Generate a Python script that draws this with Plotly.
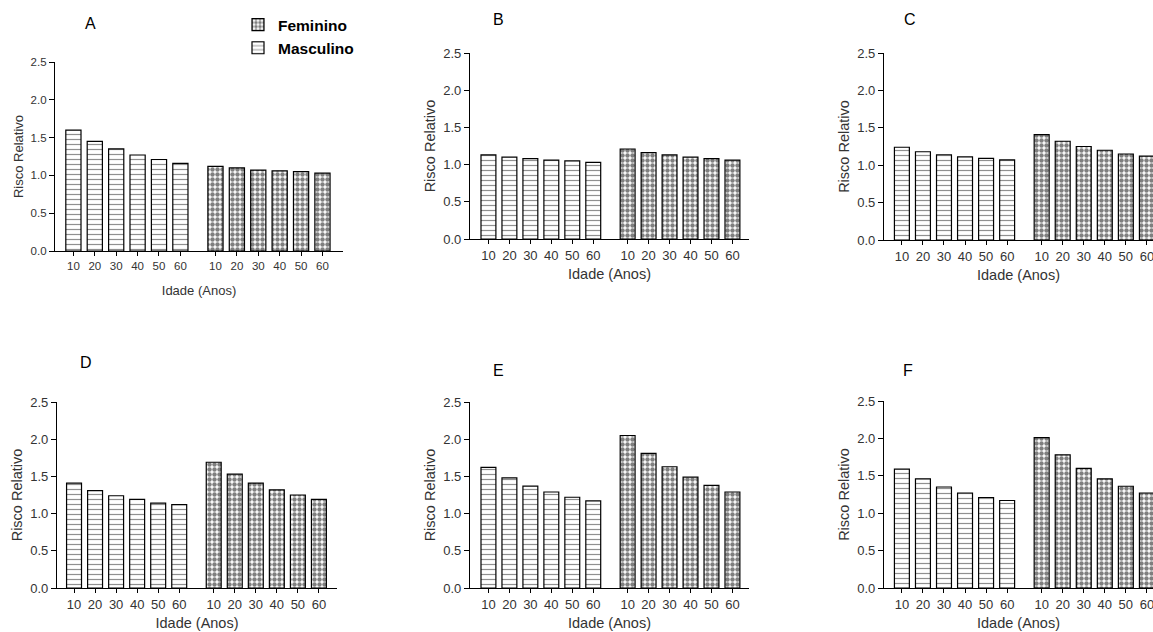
import plotly.graph_objects as go

# ---------------- data ----------------
ages = [10, 20, 30, 40, 50, 60]
panel_labels = ["A", "B", "C", "D", "E", "F"]

masc_A = [1.60, 1.45, 1.35, 1.27, 1.21, 1.16]
fem_A = [1.12, 1.10, 1.07, 1.06, 1.05, 1.03]
masc_B = [1.13, 1.10, 1.08, 1.06, 1.05, 1.03]
fem_B = [1.21, 1.16, 1.13, 1.10, 1.08, 1.06]
masc_C = [1.24, 1.18, 1.14, 1.11, 1.09, 1.07]
fem_C = [1.41, 1.32, 1.25, 1.20, 1.15, 1.12]
masc_D = [1.41, 1.31, 1.24, 1.19, 1.14, 1.12]
fem_D = [1.69, 1.53, 1.41, 1.32, 1.25, 1.19]
masc_E = [1.62, 1.48, 1.37, 1.29, 1.22, 1.17]
fem_E = [2.05, 1.81, 1.63, 1.49, 1.38, 1.29]
masc_F = [1.59, 1.46, 1.35, 1.27, 1.21, 1.17]
fem_F = [2.01, 1.78, 1.60, 1.46, 1.36, 1.27]

y_ticks = [0.0, 0.5, 1.0, 1.5, 2.0, 2.5]
x_title = "Idade (Anos)"
y_title = "Risco Relativo"
series_names = ["Masculino", "Feminino"]

masc = [masc_A, masc_B, masc_C, masc_D, masc_E, masc_F]
fem = [fem_A, fem_B, fem_C, fem_D, fem_E, fem_F]

# ---------------- layout geometry ----------------
W, H = 1153, 632
GAP = 1.64  # extra spacing between the two groups (in bar slots)
x_m = [i for i in range(len(ages))]
x_f = [len(ages) - 1 + GAP + i for i in range(len(ages))]

# pixel boxes of each panel:
# (left, right, top, bottom, xmin, xmax, tickfont, titlefont, xtitle standoff)
boxes = [
    (55, 343, 62, 251, -0.86, 12.60, 11.5, 13, 14),
    (470, 749, 53, 239, -0.88, 12.43, 13, 14.5, 7),
    (884, 1153, 53, 240, -0.85, 11.93, 13, 14.5, 7),
    (57, 337, 402, 588, -0.81, 12.50, 13, 14.5, 7),
    (470, 749, 402, 588, -0.88, 12.43, 13, 14.5, 7),
    (884, 1153, 401, 588, -0.85, 11.93, 13, 14.5, 7),
]
title_pos = [(90, 24), (498, 20), (910, 20), (86, 363), (498, 370), (908, 370)]

FONT = "Liberation Sans, Arial, sans-serif"
TXT = "#333333"

fig = go.Figure()
layout = dict(
    width=W, height=H,
    margin=dict(l=0, r=0, t=0, b=0, pad=0, autoexpand=False),
    paper_bgcolor="white", plot_bgcolor="white",
    font=dict(family=FONT, color=TXT),
    barmode="overlay",
    showlegend=True,
    legend=dict(
        x=238 / W, y=1 - 8 / H, xanchor="left", yanchor="top",
        font=dict(family=FONT, size=15.5, color="black", weight="bold"),
        bgcolor="rgba(0,0,0,0)", traceorder="reversed",
        tracegroupgap=0,
    ),
)
annotations = []

for k in range(6):
    l, r, t, b, xmin, xmax, fs, tfs, xso = boxes[k]
    sfx = "" if k == 0 else str(k + 1)
    xa, ya = "x" + sfx, "y" + sfx
    fig.add_trace(go.Bar(
        x=x_m, y=masc[k], xaxis=xa, yaxis=ya, width=0.71,
        name=series_names[0], showlegend=(k == 0),
        marker=dict(color="white", line=dict(color="black", width=1.2),
                    pattern=dict(shape="-", size=5, solidity=0.24,
                                 fgcolor="#222222", bgcolor="white")),
    ))
    fig.add_trace(go.Bar(
        x=x_f, y=fem[k], xaxis=xa, yaxis=ya, width=0.71,
        name=series_names[1], showlegend=(k == 0),
        marker=dict(color="white", line=dict(color="black", width=1.2),
                    pattern=dict(shape=".", size=5, solidity=0.62,
                                 fgcolor="black", bgcolor="white")),
    ))
    layout["xaxis" + sfx] = dict(
        domain=[l / W, min(r / W, 1.0)], range=[xmin, xmax],
        anchor=ya, showline=True, linecolor="black", linewidth=1.2,
        tickmode="array", tickvals=x_m + x_f,
        ticktext=[str(a) for a in ages] * 2,
        ticks="outside", ticklen=4, tickcolor="black", tickwidth=1,
        tickfont=dict(size=fs, color=TXT, family=FONT),
        ticklabeloverflow="allow", automargin=False,
        showgrid=False, zeroline=False, fixedrange=True,
        title=dict(text=x_title, font=dict(size=tfs, color=TXT, family=FONT), standoff=xso),
    )
    layout["yaxis" + sfx] = dict(
        domain=[1 - b / H, 1 - t / H], range=[0, 2.5],
        anchor=xa, showline=True, linecolor="black", linewidth=1.2,
        tickmode="array", tickvals=y_ticks,
        ticktext=["%.1f" % v for v in y_ticks],
        ticks="outside", ticklen=5, tickcolor="black", tickwidth=1,
        tickfont=dict(size=fs, color=TXT, family=FONT),
        automargin=False,
        showgrid=False, zeroline=False, fixedrange=True,
        title=dict(text=y_title, font=dict(size=tfs, color=TXT, family=FONT), standoff=4),
    )
    tx, ty = title_pos[k]
    annotations.append(dict(
        text=panel_labels[k], x=tx / W, y=1 - ty / H, xref="paper", yref="paper",
        xanchor="center", yanchor="middle", showarrow=False,
        font=dict(size=16, color="black", family=FONT),
    ))

layout["annotations"] = annotations
fig.update_layout(**layout)
fig.write_html("out.html")
